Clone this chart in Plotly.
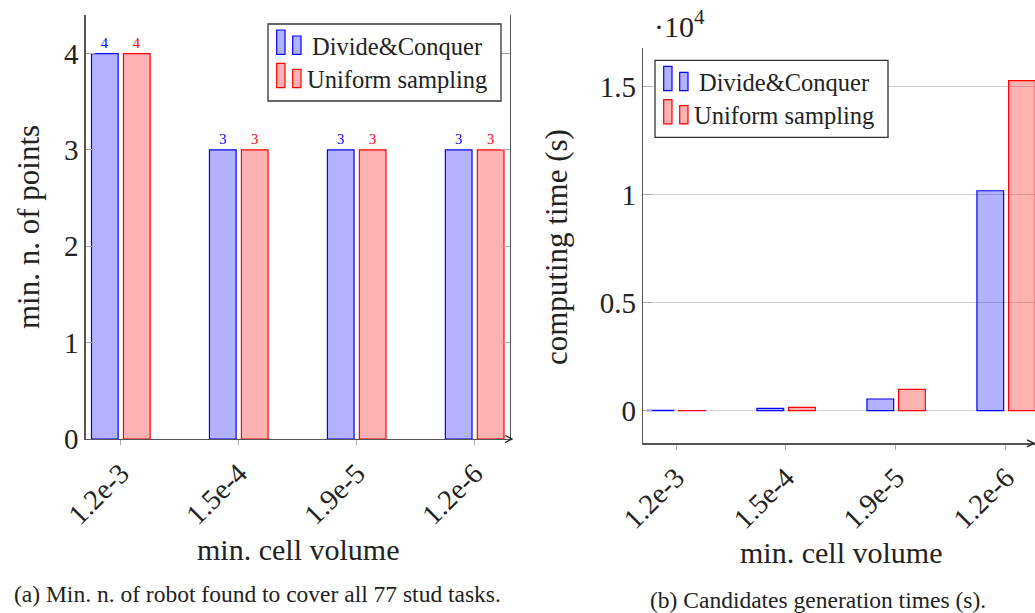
import plotly.graph_objects as go

# ---------------- data ----------------
categories = ["1.2e-3", "1.5e-4", "1.9e-5", "1.2e-6"]
min_points_dc = [4, 3, 3, 3]
min_points_us = [4, 3, 3, 3]
time_dc = [12, 111, 542, 10185]
time_us = [10, 157, 990, 15280]
time_tickvals = [0, 5000, 10000, 15000]
time_ticktext = ["0", "0.5", "1", "1.5"]
series_names = ["Divide&Conquer", "Uniform sampling"]

W, H = 1035, 613
FONT = "Liberation Serif"
TXT = "#222222"
BLUE_FILL = "rgba(0,0,255,0.3)"
RED_FILL = "rgba(255,0,0,0.3)"
AXIS = "#555555"
TICK = "#aaaaaa"


def px(x):
    return x / W


def py(y):
    return 1 - y / H


fig = go.Figure()

# left panel bars
fig.add_trace(go.Bar(x=categories, y=min_points_dc, name=series_names[0],
                     marker=dict(color=BLUE_FILL, line=dict(color="blue", width=1.2)),
                     width=0.226, offset=-0.248, text=min_points_dc, textposition="outside",
                     textfont=dict(color="blue", size=14.5, family=FONT), cliponaxis=False,
                     xaxis="x", yaxis="y", showlegend=False, hoverinfo="skip"))
fig.add_trace(go.Bar(x=categories, y=min_points_us, name=series_names[1],
                     marker=dict(color=RED_FILL, line=dict(color="red", width=1.2)),
                     width=0.226, offset=0.023, text=min_points_us, textposition="outside",
                     textfont=dict(color="red", size=14.5, family=FONT), cliponaxis=False,
                     xaxis="x", yaxis="y", showlegend=False, hoverinfo="skip"))
# right panel bars
fig.add_trace(go.Bar(x=categories, y=time_dc, name=series_names[0],
                     marker=dict(color=BLUE_FILL, line=dict(color="blue", width=1.2)),
                     width=0.243, offset=-0.264,
                     xaxis="x2", yaxis="y2", showlegend=False, hoverinfo="skip"))
fig.add_trace(go.Bar(x=categories, y=time_us, name=series_names[1],
                     marker=dict(color=RED_FILL, line=dict(color="red", width=1.2)),
                     width=0.243, offset=0.024,
                     xaxis="x2", yaxis="y2", showlegend=False, hoverinfo="skip"))

tickfont = dict(family=FONT, size=29, color=TXT)
xtickfont = dict(family=FONT, size=28.5, color=TXT)

fig.update_layout(
    width=W, height=H,
    margin=dict(l=0, r=0, t=0, b=0, autoexpand=False),
    paper_bgcolor="white", plot_bgcolor="white",
    barmode="overlay",
    font=dict(family=FONT, color=TXT),
    showlegend=False,
    xaxis=dict(domain=[px(85.7), px(510)], type="category", range=[-0.297, 3.30],
               showline=True, linecolor=AXIS, linewidth=1.3, ticks="outside", ticklen=5,
               tickcolor=TICK, tickangle=-45, tickfont=xtickfont, showgrid=False,
               anchor="y", zeroline=False, automargin=False),
    yaxis=dict(domain=[py(439), py(15)], range=[0, 4.4], tickvals=[0, 1, 2, 3, 4],
               showline=True, mirror="ticks", linecolor=AXIS, linewidth=1.3,
               ticks="inside", ticklen=9, tickcolor=TICK, tickfont=tickfont,
               showgrid=False, zeroline=False, anchor="x", automargin=False),
    xaxis2=dict(domain=[px(643), px(1035)], type="category", range=[-0.3, 3.264],
                showline=True, linecolor=AXIS, linewidth=1.3, ticks="outside", ticklen=5,
                tickcolor=TICK, tickangle=-45, tickfont=xtickfont, showgrid=False,
                anchor="y2", zeroline=False, automargin=False),
    yaxis2=dict(domain=[py(443.3), py(48.3)], range=[-1509, 16780],
                tickvals=time_tickvals, ticktext=time_ticktext,
                showline=True, linecolor=AXIS, linewidth=1.3,
                ticks="inside", ticklen=9, tickcolor=TICK, tickfont=tickfont,
                showgrid=True, gridcolor="#d0d0d0", gridwidth=1,
                zeroline=False, anchor="x2", automargin=False),
)

annotations = []


def label(text, x, y, size, angle=0, anchor="center"):
    annotations.append(dict(text=text, x=px(x), y=py(y), xref="paper", yref="paper",
                            textangle=angle, showarrow=False, xanchor=anchor, yanchor="middle",
                            font=dict(size=size, family=FONT, color=TXT)))


# axis titles
label("min. n. of points", 28, 227, 31, -90)
label("computing time (s)", 557, 247, 31, -90)
label("min. cell volume", 298, 549, 30)
label("min. cell volume", 841, 552, 30)
# captions
label("(a) Min. n. of robot found to cover all 77 stud tasks.", 257, 594, 23.5)
label("(b) Candidates generation times (s).", 818, 600, 23.5)
# scale factor
label("·10<sup>4</sup>", 652, 24, 30, anchor="left")

shapes = []


def arrow(tx, ty):
    shapes.append(dict(type="path", xref="paper", yref="paper",
                       path=f"M {px(tx - 7)},{py(ty - 3.5)} L {px(tx)},{py(ty)} L {px(tx - 7)},{py(ty + 3.5)}",
                       line=dict(color="#222222", width=1.3), layer="above"))


arrow(512, 439)
arrow(1034, 443.3)


def legend(x0, y0):
    # box
    shapes.append(dict(type="rect", xref="paper", yref="paper", x0=px(x0), x1=px(x0 + 233),
                       y0=py(y0), y1=py(y0 + 77), line=dict(color="#333333", width=1.3),
                       fillcolor="white", layer="above"))
    rows = [(BLUE_FILL, "blue", series_names[0], 0), (RED_FILL, "red", series_names[1], 33.3)]
    for fill, col, name, dy in rows:
        shapes.append(dict(type="rect", xref="paper", yref="paper",
                           x0=px(x0 + 8.7), x1=px(x0 + 17), y0=py(y0 + 6 + dy), y1=py(y0 + 30.3 + dy),
                           fillcolor=fill, line=dict(color=col, width=1.2), layer="above"))
        shapes.append(dict(type="rect", xref="paper", yref="paper",
                           x0=px(x0 + 24.7), x1=px(x0 + 33), y0=py(y0 + 12 + dy), y1=py(y0 + 30.3 + dy),
                           fillcolor=fill, line=dict(color=col, width=1.2), layer="above"))
        label(name, x0 + 129, y0 + 22 + dy, 24.5)


legend(268, 24)
legend(655, 60.3)

fig.update_layout(annotations=annotations, shapes=shapes)
fig.write_html("out.html", config={"displayModeBar": False, "staticPlot": True},
               post_script="document.body.style.margin='0';")
